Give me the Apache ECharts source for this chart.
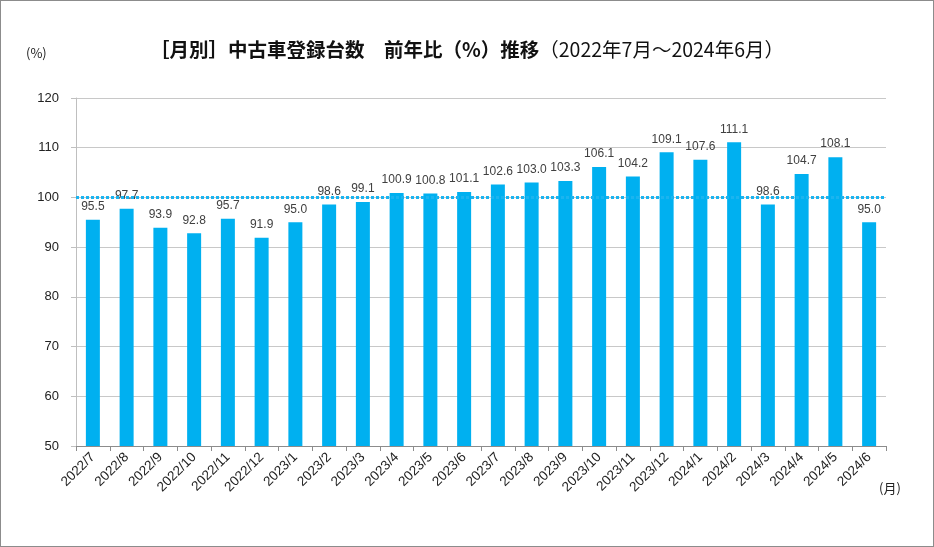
<!DOCTYPE html>
<html><head><meta charset="utf-8">
<script src="https://cdn.jsdelivr.net/npm/echarts@6/dist/echarts.min.js"></script>
<style>html,body{margin:0;padding:0;background:#fff}#c{width:934px;height:547px;box-sizing:border-box;border:1px solid #8c8c8c}</style>
</head><body><div id="c"></div>
<script>
const categories = ['2022/7','2022/8','2022/9','2022/10','2022/11','2022/12','2023/1','2023/2','2023/3','2023/4','2023/5','2023/6','2023/7','2023/8','2023/9','2023/10','2023/11','2023/12','2024/1','2024/2','2024/3','2024/4','2024/5','2024/6'];
const values = [95.5,97.7,93.9,92.8,95.7,91.9,95.0,98.6,99.1,100.9,100.8,101.1,102.6,103.0,103.3,106.1,104.2,109.1,107.6,111.1,98.6,104.7,108.1,95.0];
const yTicks = [50,60,70,80,90,100,110,120];
const refValue = 100;

const chart = echarts.init(document.getElementById('c'), null, {renderer:'canvas'});
const font = "'Liberation Sans', Arial, sans-serif";
chart.setOption({
  backgroundColor:'#ffffff',
  animation:false,
  title:{
    text:'{b|［月別］中古車登録台数　前年比（%）推移}{n|（2022年7月～2024年6月）}',
    left:'center', top:34,
    textStyle:{rich:{
      b:{fontFamily:"'Noto Sans CJK JP', sans-serif",fontWeight:'bold',fontSize:19.5,color:'#111'},
      n:{fontFamily:"'Noto Sans CJK JP', sans-serif",fontWeight:'normal',fontSize:19.5,color:'#111'}
    }}
  },
  graphic:[
    {type:'text',left:25,top:46,style:{text:'(%)',font:"13px 'Noto Sans CJK JP', sans-serif",fill:'#222'}},
    {type:'text',left:878,top:481,style:{text:'(月)',font:"13px 'Noto Sans CJK JP', sans-serif",fill:'#222'}}
  ],
  grid:{left:75,right:47,top:97,bottom:100,containLabel:false},
  xAxis:{
    type:'category',data:categories,
    axisLine:{lineStyle:{color:'#8c8c8c',width:1}},
    axisTick:{show:true,length:5,lineStyle:{color:'#8c8c8c'}},
    axisLabel:{rotate:45,fontSize:13.5,color:'#222',fontFamily:font,margin:9,interval:0}
  },
  yAxis:{
    type:'value',min:50,max:120,interval:10,
    axisLine:{show:true,lineStyle:{color:'#bfbfbf'}},
    axisTick:{show:true,inside:false,length:5,lineStyle:{color:'#bfbfbf'}},
    splitLine:{show:true,lineStyle:{color:'#c8c8c8'}},
    axisLabel:{fontSize:13,color:'#222',fontFamily:font,margin:17,
      formatter:v=>yTicks.includes(v)?String(v):''}
  },
  series:[{
    type:'bar',data:values,barWidth:14,
    itemStyle:{color:'#00B0F0'},
    label:{show:true,position:'top',distance:7,fontSize:12,color:'#404040',
      fontFamily:font,
      formatter:p=>p.value.toFixed(1)},
    markLine:{
      silent:true,symbol:'none',
      label:{show:false},
      lineStyle:{color:'#1ab4f0',type:[3,2],width:3},
      data:[{yAxis:refValue}]
    },
    z:2
  }]
});
</script></body></html>
